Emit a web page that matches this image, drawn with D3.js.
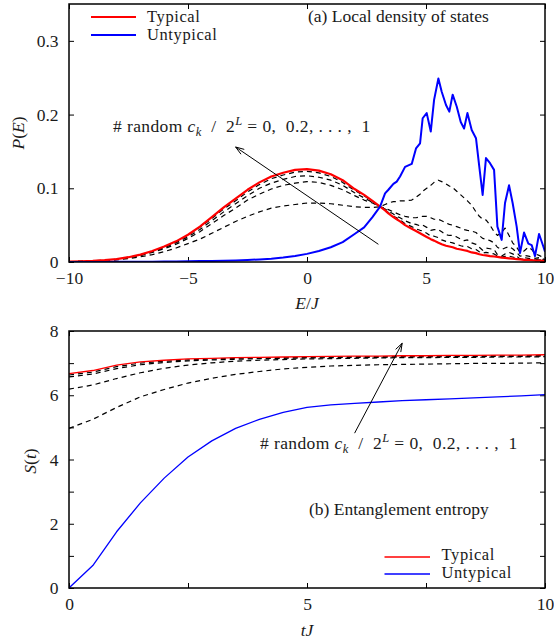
<!DOCTYPE html>
<html>
<head>
<meta charset="utf-8">
<script src="https://cdn.jsdelivr.net/npm/d3@7"></script>
<style>
  body { margin: 0; background: #fff; }
  svg text { font-family: "Liberation Serif", "DejaVu Serif", serif; fill: #1a1a1a; }
</style>
</head>
<body>
<svg id="chart" width="554" height="642"></svg>
<script>
// ---------- (a) local density of states ----------
const energies = [-10, -9.5, -9, -8.5, -8, -7.5, -7, -6.5, -6, -5.5, -5, -4.5, -4, -3.5, -3, -2.5, -2, -1.5, -1, -0.5,
  0, 0.5, 1, 1.5, 2, 2.4, 2.75, 3.07, 3.28, 3.42, 3.63, 3.77, 3.91, 4.12, 4.4, 4.58, 4.75, 4.86, 5.03, 5.2, 5.34,
  5.52, 5.66, 5.84, 5.98, 6.12, 6.29, 6.46, 6.6, 6.74, 6.92, 7.1, 7.24, 7.38, 7.52, 7.69, 7.86, 8.0, 8.18, 8.32,
  8.49, 8.64, 8.81, 8.95, 9.12, 9.3, 9.44, 9.58, 9.75, 9.93, 10];

const ldosTypical = [0.0005, 0.001, 0.0015, 0.0025, 0.004, 0.0065, 0.010, 0.015, 0.021, 0.028, 0.037, 0.048, 0.061,
  0.074, 0.086, 0.098, 0.108, 0.116, 0.121, 0.125, 0.126, 0.124, 0.119, 0.111, 0.099, 0.091, 0.083, 0.075, 0.070,
  0.066, 0.061, 0.058, 0.055, 0.050, 0.045, 0.042, 0.039, 0.037, 0.034, 0.031, 0.029, 0.026, 0.024, 0.022, 0.021,
  0.020, 0.018, 0.017, 0.016, 0.015, 0.013, 0.012, 0.0105, 0.0095, 0.009, 0.008, 0.0075, 0.007, 0.006, 0.0055,
  0.005, 0.0045, 0.004, 0.0035, 0.003, 0.0028, 0.0025, 0.002, 0.0018, 0.0015, 0.0012];

const ldosUntypical = [0, 0, 0, 0, 0.0002, 0.0003, 0.0004, 0.0005, 0.0006, 0.0008, 0.001, 0.0012, 0.0015, 0.0018,
  0.0022, 0.0028, 0.0035, 0.0045, 0.006, 0.008, 0.011, 0.015, 0.020, 0.027, 0.038, 0.047, 0.061, 0.075, 0.093,
  0.098, 0.106, 0.109, 0.116, 0.129, 0.133, 0.154, 0.161, 0.195, 0.202, 0.177, 0.220, 0.249, 0.231, 0.213, 0.204,
  0.227, 0.211, 0.190, 0.181, 0.202, 0.179, 0.168, 0.129, 0.091, 0.141, 0.134, 0.125, 0.048, 0.030, 0.080, 0.104,
  0.080, 0.048, 0.012, 0.040, 0.025, 0.023, 0.008, 0.038, 0.021, 0.014];

// intermediate mixtures: 0.2, 0.4, 0.6, 0.8 of the basis with random coefficients
const ldosMix02 = [0.0003, 0.0006, 0.001, 0.0017, 0.0028, 0.0045, 0.007, 0.010, 0.014, 0.019, 0.025, 0.031, 0.039,
  0.047, 0.055, 0.062, 0.068, 0.073, 0.076, 0.078, 0.080, 0.080, 0.079, 0.077, 0.075, 0.074, 0.074, 0.075, 0.078,
  0.080, 0.082, 0.082, 0.083, 0.083, 0.084, 0.088, 0.092, 0.096, 0.100, 0.104, 0.108, 0.111, 0.109, 0.106, 0.103,
  0.101, 0.096, 0.091, 0.087, 0.083, 0.077, 0.068, 0.062, 0.058, 0.057, 0.050, 0.041, 0.036, 0.040, 0.046, 0.036,
  0.026, 0.020, 0.013, 0.015, 0.020, 0.017, 0.011, 0.009, 0.006, 0.004];

const ldosMix04 = [0.0004, 0.0009, 0.0013, 0.0021, 0.0034, 0.0056, 0.0086, 0.013, 0.018, 0.024, 0.032, 0.041, 0.052,
  0.063, 0.073, 0.084, 0.092, 0.099, 0.104, 0.107, 0.109, 0.108, 0.104, 0.098, 0.090, 0.084, 0.080, 0.075, 0.073,
  0.071, 0.068, 0.066, 0.064, 0.062, 0.060, 0.060, 0.061, 0.062, 0.062, 0.060, 0.058, 0.058, 0.056, 0.053, 0.051,
  0.050, 0.048, 0.046, 0.044, 0.043, 0.042, 0.040, 0.036, 0.032, 0.031, 0.029, 0.026, 0.020, 0.017, 0.019, 0.021,
  0.018, 0.013, 0.008, 0.009, 0.008, 0.007, 0.005, 0.006, 0.004, 0.003];

const ldosMix06 = [0.0005, 0.0009, 0.0014, 0.0023, 0.0037, 0.006, 0.0092, 0.0138, 0.0194, 0.026, 0.034, 0.044, 0.056,
  0.068, 0.079, 0.090, 0.100, 0.107, 0.112, 0.116, 0.117, 0.115, 0.111, 0.104, 0.094, 0.087, 0.081, 0.075, 0.072,
  0.069, 0.065, 0.062, 0.060, 0.056, 0.052, 0.051, 0.049, 0.050, 0.047, 0.043, 0.044, 0.044, 0.041, 0.037, 0.036,
  0.036, 0.034, 0.031, 0.029, 0.030, 0.026, 0.024, 0.020, 0.016, 0.019, 0.018, 0.017, 0.010, 0.008, 0.011, 0.013,
  0.011, 0.008, 0.004, 0.006, 0.005, 0.004, 0.0025, 0.0045, 0.003, 0.002];

const ldosMix08 = [0.0005, 0.001, 0.0015, 0.0024, 0.0039, 0.0063, 0.0097, 0.0146, 0.0204, 0.027, 0.036, 0.047, 0.059,
  0.072, 0.083, 0.095, 0.105, 0.113, 0.118, 0.122, 0.123, 0.121, 0.116, 0.108, 0.097, 0.090, 0.082, 0.075, 0.071,
  0.067, 0.062, 0.060, 0.057, 0.052, 0.048, 0.045, 0.043, 0.042, 0.039, 0.035, 0.035, 0.033, 0.030, 0.028, 0.027,
  0.026, 0.024, 0.022, 0.021, 0.021, 0.018, 0.017, 0.014, 0.012, 0.013, 0.012, 0.011, 0.0082, 0.0067, 0.0077, 0.008,
  0.0068, 0.0053, 0.0037, 0.0041, 0.0035, 0.0031, 0.0022, 0.0029, 0.0021, 0.0016];

const ldosXTicks = [-10, -5, 0, 5, 10];
const ldosYTicks = [0, 0.1, 0.2, 0.3];

// ---------- (b) entanglement entropy ----------
const times = [0, 0.5, 1, 1.5, 2, 2.5, 3, 3.5, 4, 4.5, 5, 5.5, 6, 6.5, 7, 7.5, 8, 8.5, 9, 9.5, 10];
const entTypical = [6.67, 6.77, 6.94, 7.04, 7.09, 7.13, 7.15, 7.17, 7.18, 7.19, 7.20, 7.21, 7.22, 7.22, 7.23, 7.23,
  7.24, 7.24, 7.25, 7.25, 7.26];
const entUntypical = [0, 0.70, 1.75, 2.65, 3.42, 4.08, 4.58, 4.97, 5.25, 5.47, 5.62, 5.70, 5.75, 5.79, 5.83, 5.86,
  5.89, 5.92, 5.95, 5.98, 6.02];
const entMix02 = [4.97, 5.25, 5.62, 5.95, 6.18, 6.38, 6.53, 6.65, 6.74, 6.82, 6.87, 6.91, 6.93, 6.95, 6.96, 6.97,
  6.98, 6.99, 6.99, 7.00, 7.01];
const entMix04 = [6.19, 6.32, 6.52, 6.70, 6.84, 6.94, 7.01, 7.06, 7.09, 7.11, 7.13, 7.14, 7.15, 7.16, 7.17, 7.17,
  7.18, 7.18, 7.19, 7.19, 7.20];
const entMix06 = [6.57, 6.66, 6.83, 6.95, 7.02, 7.07, 7.10, 7.12, 7.14, 7.15, 7.16, 7.17, 7.18, 7.18, 7.19, 7.19,
  7.20, 7.20, 7.21, 7.21, 7.22];
const entMix08 = [6.63, 6.72, 6.89, 7.00, 7.06, 7.10, 7.13, 7.15, 7.16, 7.17, 7.18, 7.19, 7.20, 7.20, 7.21, 7.21,
  7.22, 7.22, 7.23, 7.23, 7.24];

const entXTicks = [0, 5, 10];
const entXMinor = [2.5, 7.5];
const entYTicks = [0, 2, 4, 6, 8];
const entYMinor = [1, 3, 5, 7];

const legendLabels = ["Typical", "Untypical"];
const RED = "#ff0000", BLUE = "#0000ff";
const FS = 17.5;
const FONT = "'Liberation Serif', 'DejaVu Serif', serif";

const svg = d3.select("#chart");
svg.append("rect").attr("width", 554).attr("height", 642).attr("fill", "#fff");

function zip(xs, ys) { return xs.map((x, i) => [x, ys[i]]); }

function txt(x, y, size) {
  return svg.append("text").attr("x", x).attr("y", y)
    .style("font-family", FONT).style("font-size", size + "px").style("fill", "#1a1a1a");
}

function styleAxis(g) {
  g.attr("font-family", null).attr("font-size", null);
  g.select(".domain").remove();
  g.selectAll(".tick line").attr("stroke", "#000").attr("stroke-width", 1);
  g.selectAll(".tick text").style("font-family", FONT).style("font-size", FS + "px").style("fill", "#1a1a1a");
}

function panel(opts) {
  const { x, y, xTicks, xMinor, yTicks, yMinor, yFmt, id } = opts;
  const [x0, x1] = x.range();
  const [y0, y1] = y.range();
  const g = svg.append("g");

  g.append("clipPath").attr("id", id).append("rect")
    .attr("x", x0).attr("y", y1).attr("width", x1 - x0).attr("height", y0 - y1);

  const allX = xTicks.concat(xMinor || []);
  const allY = yTicks.concat(yMinor || []);

  g.append("g").attr("transform", `translate(0,${y0})`)
    .call(d3.axisBottom(x).tickValues(xTicks).tickSizeInner(-5).tickSizeOuter(0).tickPadding(10)
      .tickFormat(d3.format("")))
    .call(styleAxis);
  if (xMinor) g.append("g").attr("transform", `translate(0,${y0})`)
    .call(d3.axisBottom(x).tickValues(xMinor).tickSizeInner(-5).tickSizeOuter(0).tickFormat(""))
    .call(styleAxis);
  g.append("g").attr("transform", `translate(0,${y1})`)
    .call(d3.axisTop(x).tickValues(allX).tickSizeInner(-5).tickSizeOuter(0).tickFormat(""))
    .call(styleAxis);
  g.append("g").attr("transform", `translate(${x0},0)`)
    .call(d3.axisLeft(y).tickValues(yTicks).tickSizeInner(-5).tickSizeOuter(0).tickPadding(10.5).tickFormat(yFmt))
    .call(styleAxis);
  if (yMinor) g.append("g").attr("transform", `translate(${x0},0)`)
    .call(d3.axisLeft(y).tickValues(yMinor).tickSizeInner(-5).tickSizeOuter(0).tickFormat(""))
    .call(styleAxis);
  g.append("g").attr("transform", `translate(${x1},0)`)
    .call(d3.axisRight(y).tickValues(allY).tickSizeInner(-5).tickSizeOuter(0).tickFormat(""))
    .call(styleAxis);

  const plot = g.append("g").attr("clip-path", `url(#${id})`);
  g.append("rect").attr("x", x0).attr("y", y1).attr("width", x1 - x0).attr("height", y0 - y1)
    .attr("fill", "none").attr("stroke", "#000").attr("stroke-width", 1.5);
  return { g, plot };
}

function drawLine(layer, pts, x, y, color, width, dash) {
  const line = d3.line().x(d => x(d[0])).y(d => y(d[1]));
  layer.append("path").datum(pts).attr("d", line)
    .attr("fill", "none").attr("stroke", color).attr("stroke-width", width)
    .attr("stroke-linejoin", "round")
    .attr("stroke-dasharray", dash || null);
}

function arrow(layer, from, to) {
  layer.append("line").attr("x1", from[0]).attr("y1", from[1]).attr("x2", to[0]).attr("y2", to[1])
    .attr("stroke", "#000").attr("stroke-width", 1);
  const ang = Math.atan2(to[1] - from[1], to[0] - from[0]);
  const L = 9, w = 0.33;
  const p1 = [to[0] - L * Math.cos(ang - w), to[1] - L * Math.sin(ang - w)];
  const p2 = [to[0] - L * Math.cos(ang + w), to[1] - L * Math.sin(ang + w)];
  layer.append("path").attr("d", `M${p1}L${to}L${p2}`)
    .attr("fill", "none").attr("stroke", "#000").attr("stroke-width", 1);
}

function ckLabel(x, y) {
  const t = txt(x, y, FS).style("white-space", "pre").style("letter-spacing", "0.4px");
  t.append("tspan").text("# random ");
  t.append("tspan").style("font-style", "italic").text("c");
  t.append("tspan").style("font-style", "italic").style("font-size", "12.5px").attr("dy", 4).text("k");
  t.append("tspan").attr("dy", -4).text("  /  2");
  t.append("tspan").style("font-style", "italic").style("font-size", "12.5px").attr("dy", -7).text("L");
  t.append("tspan").attr("dy", 7).text(" = 0,  0.2, . . . ,  1");
  return t;
}

// ----- panel (a) -----
const xA = d3.scaleLinear().domain([-10, 10]).range([69, 545]);
const yA = d3.scaleLinear().domain([0, 0.35]).range([262, 4]);
const pa = panel({ x: xA, y: yA, xTicks: ldosXTicks, yTicks: ldosYTicks, id: "clipA",
  yFmt: d => d === 0 ? "0" : d3.format(".1f")(d) });

[ldosMix02, ldosMix04, ldosMix06, ldosMix08].forEach(s =>
  drawLine(pa.plot, zip(energies, s), xA, yA, "#000", 1.2, "5,4"));
drawLine(pa.plot, zip(energies, ldosTypical), xA, yA, RED, 2.2);
drawLine(pa.plot, zip(energies, ldosUntypical), xA, yA, BLUE, 2);
arrow(svg, [xA(3.0), yA(0.024)], [xA(-3.0), yA(0.156)]);

// legend (a)
[[RED, 2.2, 17, 21.5], [BLUE, 2, 35, 39.5]].forEach(([c, w, ly, ty], i) => {
  svg.append("line").attr("x1", 91).attr("x2", 136).attr("y1", ly).attr("y2", ly)
    .attr("stroke", c).attr("stroke-width", w);
  txt(147, ty, 16.5).style("letter-spacing", "0.6px").text(legendLabels[i]);
});
txt(308, 21.5, FS).text("(a) Local density of states");
ckLabel(113, 132);

// axis titles (a)
const xtA = txt(307, 309, FS).attr("text-anchor", "middle");
xtA.append("tspan").style("font-style", "italic").text("E");
xtA.append("tspan").text("/");
xtA.append("tspan").style("font-style", "italic").text("J");
const ytA = txt(0, 0, FS).attr("transform", "translate(24,133) rotate(-90)").attr("text-anchor", "middle");
ytA.append("tspan").style("font-style", "italic").text("P");
ytA.append("tspan").text("(");
ytA.append("tspan").style("font-style", "italic").text("E");
ytA.append("tspan").text(")");

// ----- panel (b) -----
const xB = d3.scaleLinear().domain([0, 10]).range([69, 545]);
const yB = d3.scaleLinear().domain([0, 8]).range([588, 331]);
const pb = panel({ x: xB, y: yB, xTicks: entXTicks, xMinor: entXMinor, yTicks: entYTicks, yMinor: entYMinor,
  id: "clipB", yFmt: d3.format("") });

[entMix02, entMix04, entMix06, entMix08].forEach(s =>
  drawLine(pb.plot, zip(times, s), xB, yB, "#000", 1.2, "5,4"));
drawLine(pb.plot, zip(times, entTypical), xB, yB, RED, 1.3);
drawLine(pb.plot, zip(times, entUntypical), xB, yB, BLUE, 1.3);
arrow(svg, [xB(6.0), yB(4.82)], [xB(7.0), yB(7.62)]);

ckLabel(260, 448.5);
txt(309, 515, FS).text("(b) Entanglement entropy");

// legend (b)
[[RED, 1.3, 557, 559.5], [BLUE, 1.3, 574, 577.5]].forEach(([c, w, ly, ty], i) => {
  svg.append("line").attr("x1", 384.5).attr("x2", 430).attr("y1", ly).attr("y2", ly)
    .attr("stroke", c).attr("stroke-width", w);
  txt(441.5, ty, 16.5).style("letter-spacing", "0.6px").text(legendLabels[i]);
});

// axis titles (b)
const xtB = txt(307, 636, FS).attr("text-anchor", "middle");
xtB.append("tspan").style("font-style", "italic").text("tJ");
const ytB = txt(0, 0, FS).attr("transform", "translate(36,461) rotate(-90)").attr("text-anchor", "middle");
ytB.append("tspan").style("font-style", "italic").text("S");
ytB.append("tspan").text("(");
ytB.append("tspan").style("font-style", "italic").text("t");
ytB.append("tspan").text(")");
</script>
</body>
</html>
